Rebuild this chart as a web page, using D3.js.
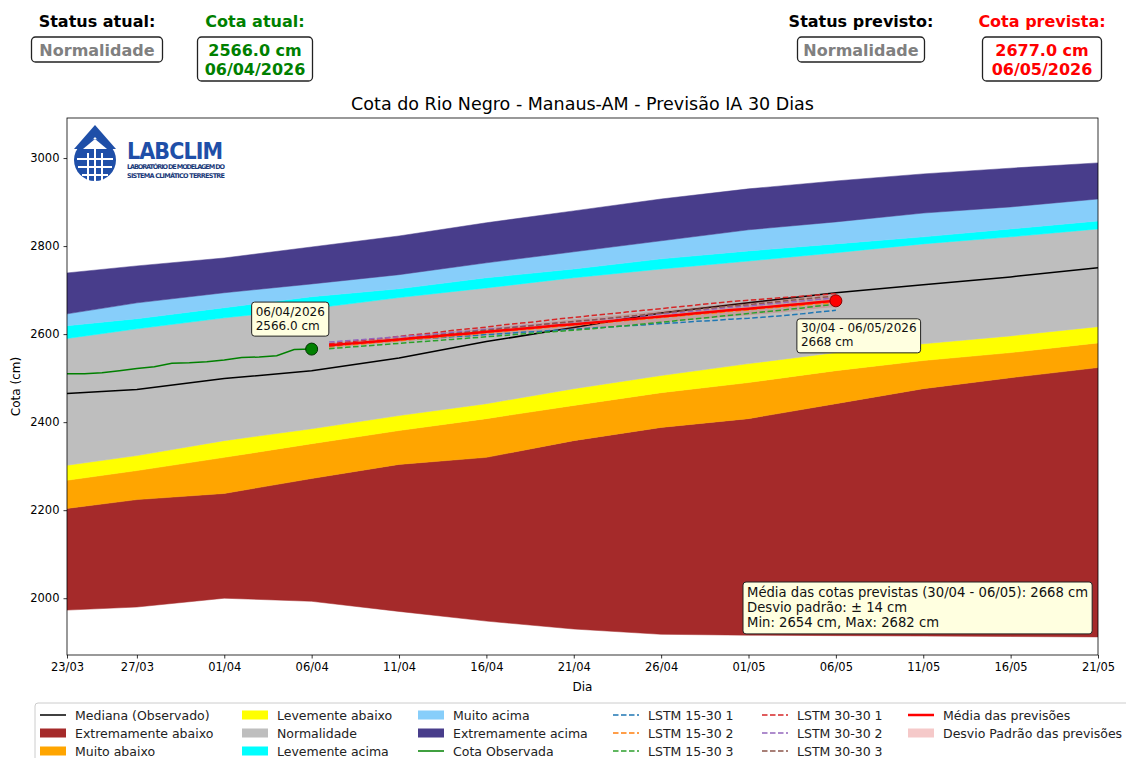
<!DOCTYPE html>
<html>
<head>
<meta charset="utf-8">
<script src="https://cdn.jsdelivr.net/npm/d3@7"></script>
<style>
  body { margin: 0; background: #fff; }
  svg { font-family: "DejaVu Sans", sans-serif; }
</style>
</head>
<body>
<div id="chart"></div>
<script>
// datas de referência das faixas (climatologia)
const bandDates = ["2026-03-23","2026-03-27","2026-04-01","2026-04-06","2026-04-11","2026-04-16","2026-04-21",
  "2026-04-26","2026-05-01","2026-05-06","2026-05-11","2026-05-16","2026-05-21"];
const minimo      = [1973,1980,2000,1993,1970,1948,1930,1918,1916,1915,1914,1913,1912];
const extAbaixo   = [2204,2224,2238,2272,2304,2320,2358,2388,2408,2442,2476,2501,2524];
const muitoAbaixo = [2268,2290,2320,2351,2381,2408,2438,2467,2490,2517,2540,2558,2580];
const levAbaixo   = [2302,2324,2358,2385,2415,2442,2476,2506,2533,2558,2578,2596,2617];
const normal      = [2590,2612,2637,2658,2683,2705,2728,2748,2766,2785,2805,2821,2839];
const levAcima    = [2619,2635,2660,2685,2703,2728,2748,2771,2789,2805,2821,2839,2857];
const muitoAcima  = [2646,2671,2694,2714,2735,2762,2787,2812,2837,2855,2875,2889,2907];
const extAcima    = [2739,2755,2773,2798,2823,2853,2880,2907,2930,2948,2964,2977,2989];
const mediana     = [2465,2474,2499,2517,2546,2583,2615,2648,2671,2694,2712,2730,2751];

// cota observada
const obsDates = ["2026-03-23","2026-03-24","2026-03-25","2026-03-26","2026-03-27","2026-03-28","2026-03-29",
  "2026-03-30","2026-03-31","2026-04-01","2026-04-02","2026-04-03","2026-04-04","2026-04-05","2026-04-06"];
const cotaObs = [2510,2510,2512,2517,2522,2526,2534,2535,2537,2541,2547,2548,2551,2565,2566];

// previsões LSTM (07/04 a 06/05)
const fcStart = "2026-04-07";
const lstm15_1 = [2576,2578,2581,2583,2586,2589,2591,2594,2596,2599,2601,2604,2606,2609,2611,2614,2616,2619,2621,2624,2626,2629,2631,2634,2636,2639,2642,2646,2650,2654];
const lstm15_2 = [2571,2575,2578,2582,2585,2589,2592,2596,2599,2603,2606,2610,2613,2617,2620,2624,2627,2631,2634,2638,2641,2645,2648,2652,2655,2659,2662,2665,2669,2672];
const lstm15_3 = [2567,2570,2573,2576,2579,2582,2585,2588,2591,2594,2597,2600,2603,2606,2609,2612,2616,2619,2623,2627,2631,2635,2639,2643,2647,2651,2655,2659,2664,2668];
const lstm30_1 = [2578,2582,2586,2590,2595,2599,2603,2608,2612,2616,2621,2625,2629,2634,2638,2642,2646,2650,2654,2658,2662,2666,2670,2674,2677,2680,2683,2686,2689,2692];
const lstm30_2 = [2582,2585,2588,2591,2594,2597,2600,2604,2607,2611,2614,2618,2621,2625,2628,2632,2635,2639,2642,2646,2649,2653,2657,2661,2664,2668,2672,2675,2679,2682];
const lstm30_3 = [2573,2577,2581,2585,2589,2593,2597,2601,2605,2609,2613,2617,2621,2625,2629,2632,2636,2640,2644,2648,2652,2656,2660,2664,2667,2671,2675,2679,2683,2686];

const tickDates = ["2026-03-23","2026-03-27","2026-04-01","2026-04-06","2026-04-11","2026-04-16","2026-04-21",
  "2026-04-26","2026-05-01","2026-05-06","2026-05-11","2026-05-16","2026-05-21"];
const yTicks = [2000, 2200, 2400, 2600, 2800, 3000];

const parse = d3.utcParse("%Y-%m-%d");
const W = 1126, H = 758;
const margin = { top: 118, right: 28, bottom: 103, left: 67 };
const iw = W - margin.left - margin.right;
const ih = H - margin.top - margin.bottom;

const svg = d3.select("#chart").append("svg").attr("width", W).attr("height", H);

const x = d3.scaleUtc().domain([parse("2026-03-23"), parse("2026-05-21")]).range([0, iw]);
const y = d3.scaleLinear().domain([1871, 3091]).range([ih, 0]);

const g = svg.append("g").attr("transform", `translate(${margin.left},${margin.top})`);
g.append("defs").append("clipPath").attr("id", "clip")
  .append("rect").attr("width", iw).attr("height", ih);
const plot = g.append("g").attr("clip-path", "url(#clip)");

// faixas
const bd = bandDates.map(parse);
const bands = [
  { lo: minimo, hi: extAbaixo, color: "#a52a2a" },
  { lo: extAbaixo, hi: muitoAbaixo, color: "#ffa500" },
  { lo: muitoAbaixo, hi: levAbaixo, color: "#ffff00" },
  { lo: levAbaixo, hi: normal, color: "#bebebe" },
  { lo: normal, hi: levAcima, color: "#00ffff" },
  { lo: levAcima, hi: muitoAcima, color: "#87cefa" },
  { lo: muitoAcima, hi: extAcima, color: "#483d8b" }
];
bands.forEach(b => {
  const area = d3.area().x((d, i) => x(bd[i])).y0((d, i) => y(b.lo[i])).y1((d, i) => y(b.hi[i]));
  plot.append("path").datum(b.hi).attr("d", area).attr("fill", b.color).attr("stroke", b.color).attr("stroke-width", 0.5);
});

// mediana
plot.append("path").datum(mediana)
  .attr("d", d3.line().x((d, i) => x(bd[i])).y(d => y(d)))
  .attr("fill", "none").attr("stroke", "black").attr("stroke-width", 1.5);

// cota observada
const od = obsDates.map(parse);
plot.append("path").datum(cotaObs)
  .attr("d", d3.line().x((d, i) => x(od[i])).y(d => y(d)))
  .attr("fill", "none").attr("stroke", "#008000").attr("stroke-width", 1.5);

// previsões
const fc0 = parse(fcStart);
const fd = lstm15_1.map((d, i) => d3.utcDay.offset(fc0, i));
const series = [
  { v: lstm15_1, c: "#1f77b4" }, { v: lstm15_2, c: "#ff7f0e" }, { v: lstm15_3, c: "#2ca02c" },
  { v: lstm30_1, c: "#d62728" }, { v: lstm30_2, c: "#9467bd" }, { v: lstm30_3, c: "#8c564b" }
];
const media = fd.map((d, i) => d3.mean(series, s => s.v[i]));
const desvio = fd.map((d, i) => d3.deviation(series, s => s.v[i]));

plot.append("path").datum(media)
  .attr("d", d3.area().x((d, i) => x(fd[i])).y0((d, i) => y(d - desvio[i])).y1((d, i) => y(d + desvio[i])))
  .attr("fill", "#d62728").attr("opacity", 0.2);

series.forEach(s => {
  plot.append("path").datum(s.v)
    .attr("d", d3.line().x((d, i) => x(fd[i])).y(d => y(d)))
    .attr("fill", "none").attr("stroke", s.c).attr("stroke-width", 1.5).attr("stroke-dasharray", "5.5,2.5");
});

plot.append("path").datum(media)
  .attr("d", d3.line().x((d, i) => x(fd[i])).y(d => y(d)))
  .attr("fill", "none").attr("stroke", "#ff0000").attr("stroke-width", 2.5);

// pontos
const lastObs = od[od.length - 1], lastObsV = cotaObs[cotaObs.length - 1];
plot.append("circle").attr("cx", x(lastObs)).attr("cy", y(lastObsV)).attr("r", 6)
  .attr("fill", "#008000").attr("stroke", "#003300").attr("stroke-width", 1);
const lastFc = fd[fd.length - 1], lastFcV = media[media.length - 1];
plot.append("circle").attr("cx", x(lastFc)).attr("cy", y(lastFcV)).attr("r", 6)
  .attr("fill", "#ff0000").attr("stroke", "#8b0000").attr("stroke-width", 1);

// eixos
const xAxis = g.append("g").attr("transform", `translate(0,${ih})`)
  .call(d3.axisBottom(x).tickValues(tickDates.map(parse)).tickFormat(d3.utcFormat("%d/%m")).tickSize(3.5).tickPadding(4));
const yAxis = g.append("g")
  .call(d3.axisLeft(y).tickValues(yTicks).tickFormat(d3.format("d")).tickSize(3.5).tickPadding(4));
[xAxis, yAxis].forEach(a => {
  a.select(".domain").remove();
  a.selectAll("text").attr("font-size", 11.5).attr("fill", "#000").attr("font-family", "DejaVu Sans");
  a.selectAll("line").attr("stroke", "#000").attr("stroke-width", 0.8);
});
g.append("rect").attr("width", iw).attr("height", ih).attr("fill", "none").attr("stroke", "#000").attr("stroke-width", 0.8);

g.append("text").attr("x", iw / 2).attr("y", ih + 36).attr("text-anchor", "middle").attr("font-size", 12).text("Dia");
g.append("text").attr("transform", `translate(-47,${ih / 2}) rotate(-90)`).attr("text-anchor", "middle")
  .attr("font-size", 12).text("Cota (cm)");
svg.append("text").attr("x", margin.left + iw / 2).attr("y", 110).attr("text-anchor", "middle")
  .attr("font-size", 17.5).text("Cota do Rio Negro - Manaus-AM - Previsão IA 30 Dias");

// caixas de anotação
function noteBox(parent, bx, by, lines, fs, pad) {
  const grp = parent.append("g");
  const t = grp.append("text").attr("font-size", fs).attr("fill", "#111");
  lines.forEach((l, i) => t.append("tspan").attr("x", bx + pad).attr("y", by + pad + fs * 0.8 + i * fs * 1.17).text(l));
  const bb = t.node().getBBox();
  grp.insert("rect", "text").attr("x", bx).attr("y", by).attr("rx", 3)
    .attr("width", bb.width + 2 * pad).attr("height", bb.height + 2 * pad - 2)
    .attr("fill", "#ffffe0").attr("stroke", "#222").attr("stroke-width", 1);
  return grp;
}
noteBox(g, x(lastObs) - 60, y(lastObsV) - 47, ["06/04/2026", "2566.0 cm"], 12, 4);
noteBox(g, x(lastFc) - 39, y(lastFcV) + 18, ["30/04 - 06/05/2026", "2668 cm"], 12, 4);
noteBox(g, iw - 355, ih - 73, ["Média das cotas previstas (30/04 - 06/05): 2668 cm", "Desvio padrão: ± 14 cm", "Min: 2654 cm, Max: 2682 cm"], 13.2, 4);

// logo
const logo = g.append("g").attr("transform", "translate(5,7)");
logo.append("circle").attr("cx", 23).attr("cy", 35).attr("r", 21).attr("fill", "#1f4fa8");
logo.append("path").attr("d", "M23,0 L44,24 L34,24 L23,12 L12,24 L2,24 Z").attr("fill", "#1f4fa8");
logo.append("path").attr("d", "M5,34 L41,34 M6,42 L40,42 M10,50 L36,50 M16,28 L16,55 M23,24 L23,56 M30,28 L30,55")
  .attr("stroke", "#fff").attr("stroke-width", 2);
logo.append("path").attr("d", "M11,24 L23,14 L35,24 Z").attr("fill", "#fff");
logo.append("text").attr("x", 55).attr("y", 34).attr("font-size", 23).attr("font-weight", "bold")
  .attr("fill", "#1f4fa8").attr("font-family", "Liberation Sans Narrow, DejaVu Sans Condensed, sans-serif")
  .attr("letter-spacing", 2).attr("textLength", 98).text("LABCLIM");
logo.append("text").attr("x", 55).attr("y", 44).attr("font-size", 6.5).attr("font-weight", "bold")
  .attr("fill", "#1a3a7a").attr("textLength", 98).text("LABORATÓRIO DE MODELAGEM DO");
logo.append("text").attr("x", 55).attr("y", 53).attr("font-size", 6.5).attr("font-weight", "bold")
  .attr("fill", "#1a3a7a").attr("textLength", 98).text("SISTEMA CLIMÁTICO TERRESTRE");

// cabeçalho
function header(cx, label, labelColor, lines, valColor, boxW) {
  svg.append("text").attr("x", cx).attr("y", 27).attr("text-anchor", "middle").attr("font-size", 16)
    .attr("font-weight", "bold").attr("fill", labelColor).text(label);
  const h = lines.length === 1 ? 25 : 44;
  svg.append("rect").attr("x", cx - boxW / 2).attr("y", 37).attr("width", boxW).attr("height", h).attr("rx", 4)
    .attr("fill", "#fff").attr("stroke", "#222").attr("stroke-width", 1.3);
  lines.forEach((l, i) => svg.append("text").attr("x", cx).attr("y", 55.5 + i * 19).attr("text-anchor", "middle")
    .attr("font-size", 16).attr("font-weight", "bold").attr("fill", valColor).text(l));
}
header(97, "Status atual:", "#000", ["Normalidade"], "#808080", 131);
header(255, "Cota atual:", "#008000", ["2566.0 cm", "06/04/2026"], "#008000", 115);
header(861, "Status previsto:", "#000", ["Normalidade"], "#808080", 127);
header(1042, "Cota prevista:", "#ff0000", ["2677.0 cm", "06/05/2026"], "#ff0000", 119);

// legenda
const legendItems = [
  { t: "Mediana (Observado)", k: "line", c: "#000" },
  { t: "Extremamente abaixo", k: "patch", c: "#a52a2a" },
  { t: "Muito abaixo", k: "patch", c: "#ffa500" },
  { t: "Levemente abaixo", k: "patch", c: "#ffff00" },
  { t: "Normalidade", k: "patch", c: "#bebebe" },
  { t: "Levemente acima", k: "patch", c: "#00ffff" },
  { t: "Muito acima", k: "patch", c: "#87cefa" },
  { t: "Extremamente acima", k: "patch", c: "#483d8b" },
  { t: "Cota Observada", k: "line", c: "#008000" },
  { t: "LSTM 15-30 1", k: "dash", c: "#1f77b4" },
  { t: "LSTM 15-30 2", k: "dash", c: "#ff7f0e" },
  { t: "LSTM 15-30 3", k: "dash", c: "#2ca02c" },
  { t: "LSTM 30-30 1", k: "dash", c: "#d62728" },
  { t: "LSTM 30-30 2", k: "dash", c: "#9467bd" },
  { t: "LSTM 30-30 3", k: "dash", c: "#8c564b" },
  { t: "Média das previsões", k: "thick", c: "#ff0000" },
  { t: "Desvio Padrão das previsões", k: "alpha", c: "#d62728" }
];
const colX = [40, 242, 418, 613, 762, 908];
const lg = svg.append("g");
lg.append("rect").attr("x", 35).attr("y", 703).attr("width", 1100).attr("height", 70).attr("rx", 3)
  .attr("fill", "#fff").attr("stroke", "#ccc").attr("stroke-width", 1);
legendItems.forEach((it, i) => {
  const cx = colX[Math.floor(i / 3)], cy = 715 + (i % 3) * 18;
  if (it.k === "patch" || it.k === "alpha") {
    lg.append("rect").attr("x", cx).attr("y", cy - 4.5).attr("width", 26).attr("height", 9)
      .attr("fill", it.c).attr("opacity", it.k === "alpha" ? 0.25 : 1);
  } else {
    lg.append("line").attr("x1", cx).attr("x2", cx + 26).attr("y1", cy).attr("y2", cy)
      .attr("stroke", it.c).attr("stroke-width", it.k === "thick" ? 2.5 : 1.5)
      .attr("stroke-dasharray", it.k === "dash" ? "5.5,2.5" : null);
  }
  lg.append("text").attr("x", cx + 35).attr("y", cy + 4.5).attr("font-size", 12.5).attr("fill", "#222").text(it.t);
});
</script>
</body>
</html>
